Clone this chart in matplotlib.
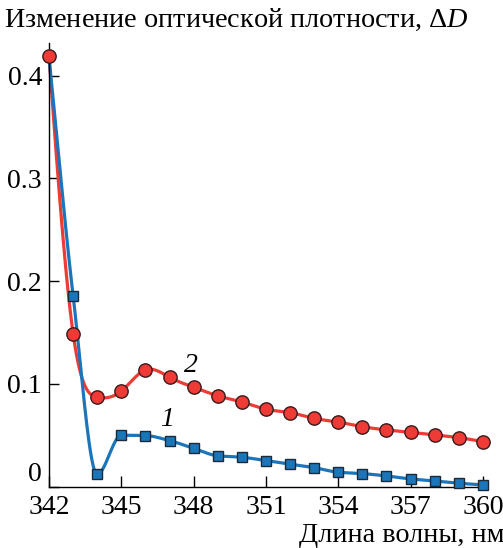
import matplotlib
matplotlib.use('Agg')
import matplotlib.pyplot as plt
import numpy as np

plt.rcParams['font.family'] = ['Liberation Serif', 'DejaVu Serif']
plt.rcParams['mathtext.fontset'] = 'custom'
plt.rcParams['mathtext.rm'] = 'Liberation Serif'
plt.rcParams['mathtext.it'] = 'Liberation Serif:italic'

# wavelength, nm
wl = [342, 343, 344, 345, 346, 347, 348, 349, 350, 351,
      352, 353, 354, 355, 356, 357, 358, 359, 360]

# curve 1 (blue squares); point at 342 hidden under the red circle
d1 = [0.418, 0.186, 0.012, 0.050, 0.0497, 0.0448, 0.0373, 0.030, 0.0286, 0.0253,
      0.0218, 0.0185, 0.014, 0.0127, 0.0104, 0.0075, 0.0055, 0.0033, 0.0017]

# curve 2 (red circles)
d2 = [0.419, 0.149, 0.087, 0.093, 0.1136, 0.1065, 0.0967, 0.0883, 0.0824, 0.0753,
      0.072, 0.0665, 0.0628, 0.0584, 0.0552, 0.0529, 0.0503, 0.0477, 0.0438]

xticks = [342, 345, 348, 351, 354, 357, 360]
yticks = [0, 0.1, 0.2, 0.3, 0.4]
yticklabels = ['0', '0.1', '0.2', '0.3', '0.4']


def spline(x, y, n=600):
    # natural cubic spline through the points, only for drawing the line
    x = np.asarray(x, float)
    y = np.asarray(y, float)
    k = len(x)
    h = np.diff(x)
    A = np.zeros((k, k))
    b = np.zeros(k)
    A[0, 0] = A[-1, -1] = 1.0
    for i in range(1, k - 1):
        A[i, i - 1] = h[i - 1]
        A[i, i] = 2 * (h[i - 1] + h[i])
        A[i, i + 1] = h[i]
        b[i] = 6 * ((y[i + 1] - y[i]) / h[i] - (y[i] - y[i - 1]) / h[i - 1])
    M = np.linalg.solve(A, b)
    xs = np.linspace(x[0], x[-1], n)
    j = np.clip(np.searchsorted(x, xs) - 1, 0, k - 2)
    t0 = x[j + 1] - xs
    t1 = xs - x[j]
    hj = h[j]
    ys = (M[j] * t0 ** 3 + M[j + 1] * t1 ** 3) / (6 * hj) \
        + (y[j] / hj - M[j] * hj / 6) * t0 + (y[j + 1] / hj - M[j + 1] * hj / 6) * t1
    return xs, ys


def pchip(x, y, n=600):
    # monotone cubic (Fritsch-Carlson), no overshoot between points
    x = np.asarray(x, float)
    y = np.asarray(y, float)
    h = np.diff(x)
    dl = np.diff(y) / h
    m = np.zeros_like(y)
    for i in range(1, len(x) - 1):
        if dl[i - 1] * dl[i] > 0:
            w1 = 2 * h[i] + h[i - 1]
            w2 = h[i] + 2 * h[i - 1]
            m[i] = (w1 + w2) / (w1 / dl[i - 1] + w2 / dl[i])
    m[0] = dl[0]
    m[-1] = dl[-1]
    xs = np.linspace(x[0], x[-1], n)
    j = np.clip(np.searchsorted(x, xs) - 1, 0, len(x) - 2)
    t = (xs - x[j]) / h[j]
    h00 = 2 * t ** 3 - 3 * t ** 2 + 1
    h10 = t ** 3 - 2 * t ** 2 + t
    h01 = -2 * t ** 3 + 3 * t ** 2
    h11 = t ** 3 - t ** 2
    ys = h00 * y[j] + h10 * h[j] * m[j] + h01 * y[j + 1] + h11 * h[j] * m[j + 1]
    return xs, ys


red = '#ee3b35'
blue = '#1b75bb'

fig = plt.figure(figsize=(5.03, 5.48), dpi=100)
ax = fig.add_axes([0.0974, 0.112, 0.8626, 0.8095])

xs, ys = spline(wl, d2)
ax.plot(xs, ys, color=red, lw=2.3, zorder=2, clip_on=False)
xs, ys = pchip(wl, d1)
ax.plot(xs, ys, color=blue, lw=2.3, zorder=2, clip_on=False)

ax.plot(wl[1:], d1[1:], 's', ms=7.8, mfc=blue, mec='#1a2a3a', mew=1.0,
        ls='none', zorder=3, clip_on=False)
ax.plot(wl, d2, 'o', ms=9.6, mfc=red, mec='#3a1a1a', mew=1.0,
        ls='none', zorder=4, clip_on=False)

ax.text(346.9, 0.065, '1', fontsize=20, style='italic', ha='center', va='center')
ax.text(347.9, 0.118, '2', fontsize=20, style='italic', ha='center', va='center')

ax.set_xlim(342, 360)
ax.set_ylim(0, 0.4318)
ax.set_xticks(xticks)
ax.set_yticks(yticks)
ax.set_yticklabels(yticklabels)
ax.tick_params(direction='in', labelsize=20, width=1.0, color='black')
ax.tick_params(axis='x', length=8, pad=6)
ax.tick_params(axis='y', length=7, pad=5)
# the "0" label sits above the corner so it clears "342"
ax.get_yticklabels()[0].set_va('bottom')
for s in ['top', 'right']:
    ax.spines[s].set_visible(False)
for s in ['left', 'bottom']:
    ax.spines[s].set_linewidth(1.0)

fig.text(0.008, 0.963, 'Изменение оптической плотности, Δ$D$',
         fontsize=20.3, ha='left', va='center')
fig.text(1.003, 0.022, 'Длина волны, нм', fontsize=20.3, ha='right', va='center')

fig.savefig('out.png', dpi=100)
